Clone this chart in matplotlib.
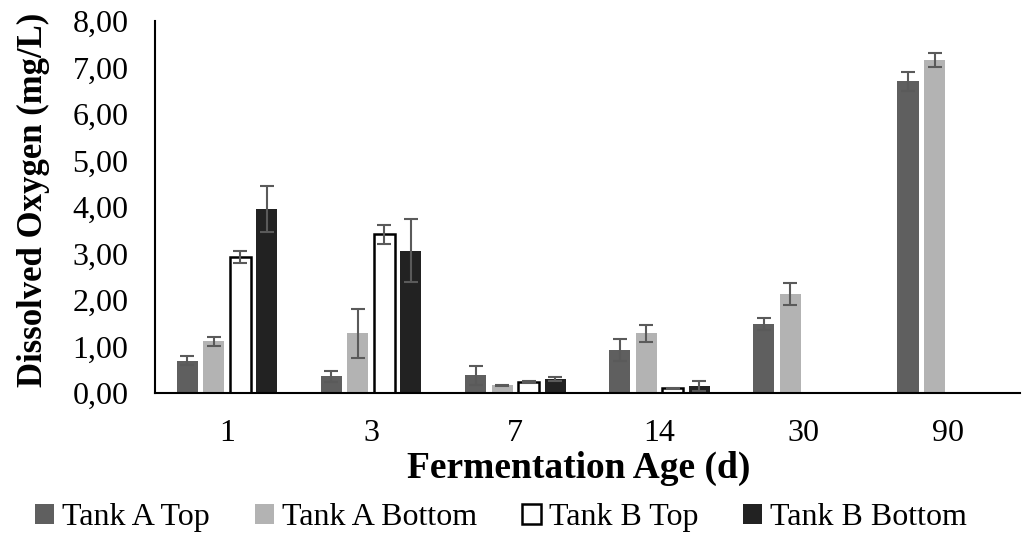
import numpy as np
import matplotlib.pyplot as plt

plt.rcParams['font.family'] = ['Liberation Serif', 'DejaVu Serif']

ages = ['1', '3', '7', '14', '30', '90']
series = ['Tank A Top', 'Tank A Bottom', 'Tank B Top', 'Tank B Bottom']

a_top = [0.69, 0.36, 0.38, 0.92, 1.48, 6.70]
a_top_err = [0.10, 0.12, 0.20, 0.24, 0.12, 0.20]
a_bottom = [1.11, 1.28, 0.16, 1.28, 2.12, 7.16]
a_bottom_err = [0.10, 0.52, 0.02, 0.19, 0.24, 0.15]
b_top = [2.93, 3.41, 0.24, 0.10, np.nan, np.nan]
b_top_err = [0.13, 0.21, 0.02, 0.01, np.nan, np.nan]
b_bottom = [3.96, 3.06, 0.30, 0.15, np.nan, np.nan]
b_bottom_err = [0.50, 0.68, 0.05, 0.10, np.nan, np.nan]

values = [a_top, a_bottom, b_top, b_bottom]
errors = [a_top_err, a_bottom_err, b_top_err, b_bottom_err]
colors = ['#5f5f5f', '#b3b3b3', 'white', '#222222']
edges = ['none', 'none', 'black', 'none']

fig = plt.figure(figsize=(10.26, 5.36), dpi=100)
ax = fig.add_axes([0.151, 0.267, 0.843, 0.694])

x = np.arange(len(ages))
width = 0.146
step = 0.184
for i, (vals, errs) in enumerate(zip(values, errors)):
    pos = x + (i - 1.5) * step
    ax.bar(pos, vals, width, color=colors[i], edgecolor=edges[i],
           linewidth=1.8 if edges[i] != 'none' else 0, label=series[i])
    ax.errorbar(pos, vals, yerr=errs, fmt='none', ecolor='#5a5a5a',
                elinewidth=1.5, capsize=5, capthick=1.5)

ax.set_xlim(-0.5, len(ages) - 0.5)
ax.set_ylim(0, 8)
ax.set_yticks(np.arange(0, 9, 1))
ax.set_yticklabels([f'{v:.2f}'.replace('.', ',') for v in range(9)])
ax.set_xticks(x)
ax.set_xticklabels(ages)
ax.tick_params(length=0, labelsize=23)
ax.tick_params(axis='y', pad=19)
ax.tick_params(axis='x', pad=19)
for s in ['top', 'right']:
    ax.spines[s].set_visible(False)
ax.spines['left'].set_linewidth(1.5)
ax.spines['bottom'].set_linewidth(1.5)

ax.set_ylabel('Dissolved Oxygen (mg/L)', fontsize=25, fontweight='bold')
ax.yaxis.set_label_coords(-0.121, 0.52)
ax.set_xlabel('Fermentation Age (d)', fontsize=27, fontweight='bold')
ax.xaxis.set_label_coords(0.49, -0.156)

ax.legend(loc='center', bbox_to_anchor=(0.40, -0.335), ncol=4, frameon=False,
          fontsize=23, handlelength=0.6, handleheight=0.6, handletextpad=0.25,
          columnspacing=1.4)

fig.savefig('out.png', dpi=100)
